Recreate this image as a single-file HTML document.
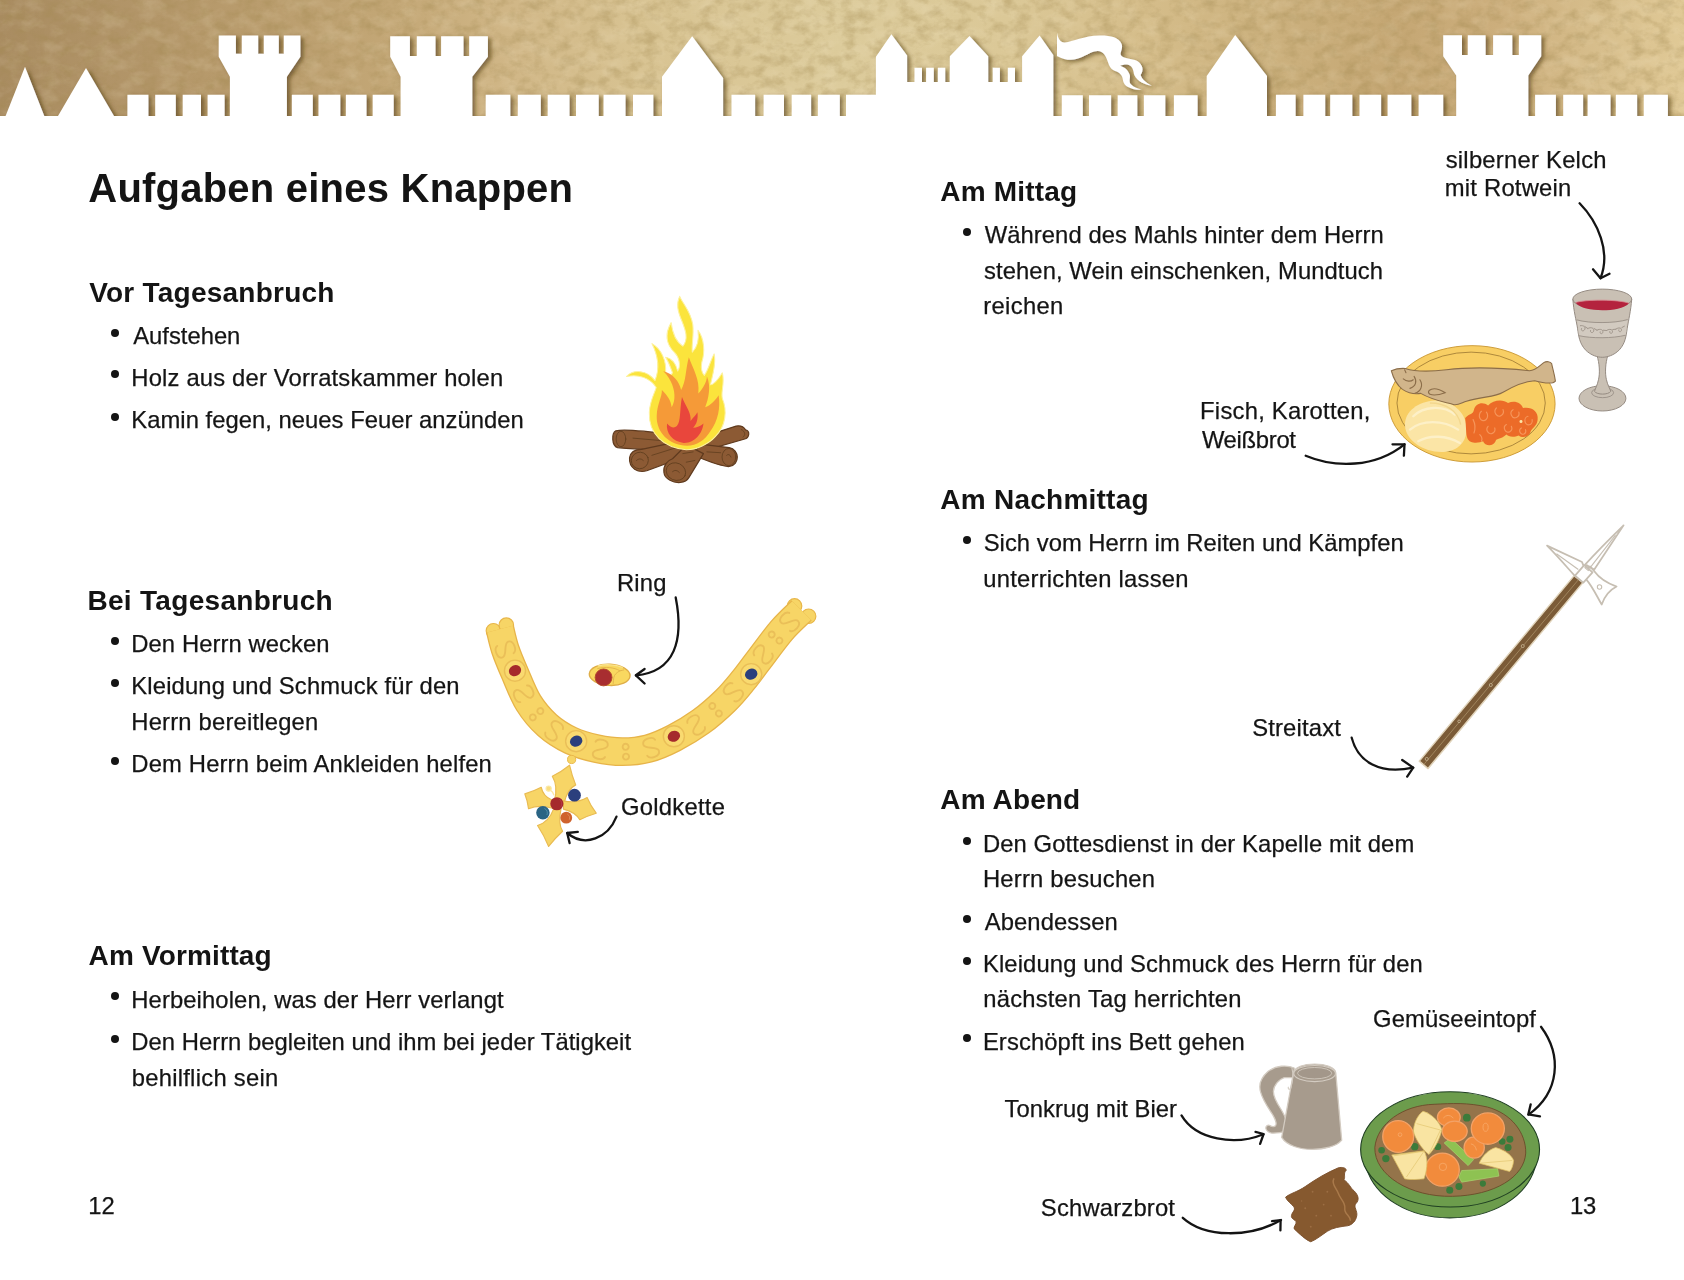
<!DOCTYPE html>
<html lang="de"><head><meta charset="utf-8"><title>Aufgaben eines Knappen</title>
<style>
html,body{margin:0;padding:0;}
body{width:1684px;height:1280px;position:relative;overflow:hidden;background:#fff;font-family:"Liberation Sans",sans-serif;color:#141414;}
.t{position:absolute;white-space:nowrap;line-height:1em;font-weight:400;-webkit-text-stroke:0.25px #141414;}
.t.b{font-weight:700;-webkit-text-stroke:0;}
.bu{position:absolute;width:8px;height:8px;border-radius:50%;background:#141414;}
svg{position:absolute;overflow:visible;}
#txt{position:absolute;left:0;top:0;width:1684px;height:1280px;will-change:transform;}
#banner{position:absolute;left:0;top:0;width:1684px;height:117px;overflow:hidden;}
</style></head><body>
<div id="banner">
<svg width="1684" height="117" viewBox="0 0 1684 117" style="left:0;top:0">
<defs>
<linearGradient id="pg" x1="0" x2="1" y1="0" y2="0">
<stop offset="0" stop-color="#a98c61"/><stop offset="0.06" stop-color="#b09367"/><stop offset="0.15" stop-color="#b99c6d"/>
<stop offset="0.24" stop-color="#c4a877"/><stop offset="0.30" stop-color="#d0b686"/><stop offset="0.38" stop-color="#d8c392"/>
<stop offset="0.50" stop-color="#dccb9b"/><stop offset="0.60" stop-color="#dbc897"/><stop offset="0.68" stop-color="#d5bd8a"/>
<stop offset="0.76" stop-color="#cbb07d"/><stop offset="0.83" stop-color="#c5a774"/><stop offset="0.89" stop-color="#ccae7c"/>
<stop offset="0.95" stop-color="#d7be8c"/><stop offset="1" stop-color="#e0c996"/>
</linearGradient>
<filter id="tex" x="0" y="0" width="100%" height="100%">
<feTurbulence type="fractalNoise" baseFrequency="0.07 0.09" numOctaves="4" seed="11" result="n"/>
<feColorMatrix in="n" type="matrix" values="0 0 0 0 0.36  0 0 0 0 0.25  0 0 0 0 0.08  2.4 0 0 0 -1.0"/>
</filter>
<filter id="tex2" x="0" y="0" width="100%" height="100%">
<feTurbulence type="fractalNoise" baseFrequency="0.05 0.07" numOctaves="4" seed="23" result="n"/>
<feColorMatrix in="n" type="matrix" values="0 0 0 0 0.95  0 0 0 0 0.86  0 0 0 0 0.66  0 2.4 0 0 -1.05"/>
</filter>
<filter id="sh" x="-2%" y="-20%" width="104%" height="140%">
<feGaussianBlur in="SourceAlpha" stdDeviation="2" result="b"/>
<feOffset in="b" dx="3.4" dy="1.5" result="o"/>
<feFlood flood-color="#4a3510" flood-opacity="0.6"/><feComposite in2="o" operator="in" result="s"/>
<feMerge><feMergeNode in="s"/><feMergeNode in="SourceGraphic"/></feMerge>
</filter>
</defs>
<rect x="0" y="0" width="1684" height="117" fill="url(#pg)"/>
<rect x="0" y="0" width="1684" height="117" filter="url(#tex)" opacity="0.36"/>
<rect x="0" y="0" width="1684" height="117" filter="url(#tex2)" opacity="0.16"/>
<g filter="url(#sh)" fill="#fff"><path d="M5.6,118.0 L5.6,116.0 L25.0,66.8 L44.3,116.0 L44.3,118.0Z M58.0,118.0 L58.0,116.0 L86.0,68.0 L114.0,116.0 L114.0,118.0Z M127.4,94.8 L148.4,94.8 L148.4,118.0 L127.4,118.0Z M155.2,94.8 L175.8,94.8 L175.8,118.0 L155.2,118.0Z M182.7,94.8 L201.0,94.8 L201.0,118.0 L182.7,118.0Z M207.6,94.8 L224.6,94.8 L224.6,118.0 L207.6,118.0Z M218.7,35.6 L235.9,35.6 L235.9,53.7 L241.8,53.7 L241.8,35.6 L258.2,35.6 L258.2,53.7 L263.8,53.7 L263.8,35.6 L278.8,35.6 L278.8,53.7 L283.8,53.7 L283.8,35.6 L300.4,35.6 L300.4,56.8 L286.9,76.8 L286.9,118.0 L229.9,118.0 L229.9,76.8 L218.7,56.8Z M291.9,94.8 L312.8,94.8 L312.8,118.0 L291.9,118.0Z M318.5,94.8 L340.3,94.8 L340.3,118.0 L318.5,118.0Z M345.9,94.8 L366.5,94.8 L366.5,118.0 L345.9,118.0Z M372.7,94.8 L393.7,94.8 L393.7,118.0 L372.7,118.0Z M390.2,36.2 L409.9,36.2 L409.9,56.0 L416.8,56.0 L416.8,36.2 L435.5,36.2 L435.5,56.0 L441.1,56.0 L441.1,36.2 L463.5,36.2 L463.5,56.0 L469.2,56.0 L469.2,36.2 L487.9,36.2 L487.9,56.8 L472.3,76.8 L472.3,118.0 L400.6,118.0 L400.6,76.8 L390.2,56.8Z M485.7,94.8 L510.3,94.8 L510.3,118.0 L485.7,118.0Z M517.8,94.8 L540.8,94.8 L540.8,118.0 L517.8,118.0Z M547.7,94.8 L569.5,94.8 L569.5,118.0 L547.7,118.0Z M576.0,94.8 L598.7,94.8 L598.7,118.0 L576.0,118.0Z M603.6,94.8 L625.5,94.8 L625.5,118.0 L603.6,118.0Z M633.0,94.8 L653.3,94.8 L653.3,118.0 L633.0,118.0Z M662.0,118.0 L662.0,76.8 L692.2,36.2 L723.1,78.0 L723.1,118.0Z M731.5,94.8 L755.1,94.8 L755.1,118.0 L731.5,118.0Z M763.6,94.8 L784.0,94.8 L784.0,118.0 L763.6,118.0Z M791.7,94.8 L811.1,94.8 L811.1,118.0 L791.7,118.0Z M817.9,94.8 L839.8,94.8 L839.8,118.0 L817.9,118.0Z M846.0,94.8 L876.5,94.8 L876.5,118.0 L846.0,118.0Z M875.9,118.0 L875.9,56.8 L891.4,34.3 L907.1,55.5 L907.1,82.0 L914.5,82.0 L914.5,67.8 L922.0,67.8 L922.0,82.0 L926.1,82.0 L926.1,67.8 L933.8,67.8 L933.8,82.0 L937.9,82.0 L937.9,67.8 L945.2,67.8 L945.2,82.0 L949.8,82.0 L949.8,56.2 L969.5,36.0 L988.2,56.2 L988.2,82.0 L992.8,82.0 L992.8,67.8 L999.9,67.8 L999.9,82.0 L1007.8,82.0 L1007.8,67.8 L1015.0,67.8 L1015.0,82.0 L1022.1,82.0 L1022.1,56.2 L1039.6,35.6 L1053.3,54.9 L1053.3,118.0Z M1061.8,95.2 L1082.8,95.2 L1082.8,118.0 L1061.8,118.0Z M1089.0,95.2 L1111.1,95.2 L1111.1,118.0 L1089.0,118.0Z M1117.7,95.2 L1137.3,95.2 L1137.3,118.0 L1117.7,118.0Z M1143.9,95.2 L1165.3,95.2 L1165.3,118.0 L1143.9,118.0Z M1173.9,95.2 L1197.6,95.2 L1197.6,118.0 L1173.9,118.0Z M1206.7,118.0 L1206.7,76.1 L1235.2,35.0 L1267.0,76.1 L1267.0,118.0Z M1275.9,94.8 L1295.6,94.8 L1295.6,118.0 L1275.9,118.0Z M1303.4,94.8 L1325.2,94.8 L1325.2,118.0 L1303.4,118.0Z M1330.2,94.8 L1352.3,94.8 L1352.3,118.0 L1330.2,118.0Z M1359.5,94.8 L1381.1,94.8 L1381.1,118.0 L1359.5,118.0Z M1387.6,94.8 L1411.3,94.8 L1411.3,118.0 L1387.6,118.0Z M1418.6,94.8 L1443.2,94.8 L1443.2,118.0 L1418.6,118.0Z M1443.2,35.2 L1462.0,35.2 L1462.0,54.9 L1467.8,54.9 L1467.8,35.2 L1485.6,35.2 L1485.6,54.9 L1493.1,54.9 L1493.1,35.2 L1512.3,35.2 L1512.3,54.9 L1518.9,54.9 L1518.9,35.2 L1541.2,35.2 L1541.2,56.2 L1528.3,75.5 L1528.3,118.0 L1456.2,118.0 L1456.2,75.5 L1443.2,56.2Z M1535.1,94.8 L1555.9,94.8 L1555.9,118.0 L1535.1,118.0Z M1563.2,94.8 L1583.1,94.8 L1583.1,118.0 L1563.2,118.0Z M1587.7,94.8 L1610.5,94.8 L1610.5,118.0 L1587.7,118.0Z M1615.9,94.8 L1637.1,94.8 L1637.1,118.0 L1615.9,118.0Z M1643.8,94.8 L1667.9,94.8 L1667.9,118.0 L1643.8,118.0Z M-10,116 L1700,116 L1700,130 L-10,130Z"/><path d="M1057.0,32.5 C1057.9,39.1 1060.8,42.9 1064.9,42.4 C1073.3,42.0 1083.2,35.8 1099.9,35.6 C1110.7,35.5 1119.0,37.5 1121.6,44.1 C1123.5,49.1 1119.0,53.3 1121.3,55.7 C1124.0,59.1 1131.4,57.8 1137.3,61.1 C1143.1,64.9 1143.9,70.7 1140.6,74.9 C1142.2,79.9 1147.2,83.2 1151.8,85.7 C1144.7,84.4 1137.3,81.5 1134.3,74.9 C1133.1,70.7 1133.5,66.6 1128.1,64.7 C1125.6,64.1 1122.3,64.9 1120.2,65.7 C1124.8,67.4 1128.1,69.9 1129.8,74.9 C1130.6,78.2 1128.1,81.5 1131.4,84.8 C1133.9,87.3 1138.1,88.6 1141.6,89.5 C1135.6,90.2 1128.1,88.2 1124.8,84.4 C1121.9,81.1 1124.0,77.4 1119.8,73.6 C1116.5,70.7 1112.3,71.5 1109.8,66.6 C1107.3,61.6 1106.5,54.9 1101.5,52.0 C1096.5,49.1 1089.9,53.3 1083.2,56.6 C1075.7,60.3 1067.4,61.6 1057.0,55.9Z"/></g>
</svg></div>
<div id="txt">
<div class="t b" style="left:88.30px;top:167.54px;font-size:40px;letter-spacing:0.219px">Aufgaben eines Knappen</div>
<div class="t b" style="left:89.16px;top:278.80px;font-size:28px;letter-spacing:0.239px">Vor Tagesanbruch</div>
<div class="t" style="left:133.20px;top:323.85px;font-size:23.8px;letter-spacing:0.000px">Aufstehen</div>
<div class="t" style="left:131.30px;top:365.75px;font-size:23.8px;letter-spacing:0.176px">Holz aus der Vorratskammer holen</div>
<div class="t" style="left:131.30px;top:408.05px;font-size:23.8px;letter-spacing:0.029px">Kamin fegen, neues Feuer anzünden</div>
<div class="t b" style="left:87.48px;top:587.30px;font-size:28px;letter-spacing:0.303px">Bei Tagesanbruch</div>
<div class="t" style="left:131.30px;top:632.45px;font-size:23.8px;letter-spacing:0.079px">Den Herrn wecken</div>
<div class="t" style="left:131.30px;top:674.35px;font-size:23.8px;letter-spacing:0.152px">Kleidung und Schmuck für den</div>
<div class="t" style="left:131.30px;top:709.95px;font-size:23.8px;letter-spacing:0.194px">Herrn bereitlegen</div>
<div class="t" style="left:131.30px;top:752.15px;font-size:23.8px;letter-spacing:0.158px">Dem Herrn beim Ankleiden helfen</div>
<div class="t b" style="left:88.60px;top:942.40px;font-size:28px;letter-spacing:0.144px">Am Vormittag</div>
<div class="t" style="left:131.30px;top:987.75px;font-size:23.8px;letter-spacing:0.100px">Herbeiholen, was der Herr verlangt</div>
<div class="t" style="left:131.30px;top:1029.95px;font-size:23.8px;letter-spacing:0.032px">Den Herrn begleiten und ihm bei jeder Tätigkeit</div>
<div class="t" style="left:131.65px;top:1065.65px;font-size:23.8px;letter-spacing:0.264px">behilflich sein</div>
<div class="t" style="left:88.22px;top:1194.05px;font-size:23.8px;letter-spacing:0.157px">12</div>
<div class="t b" style="left:940.30px;top:177.70px;font-size:28px;letter-spacing:0.197px">Am Mittag</div>
<div class="t" style="left:984.68px;top:223.45px;font-size:23.8px;letter-spacing:0.070px">Während des Mahls hinter dem Herrn</div>
<div class="t" style="left:984.09px;top:258.65px;font-size:23.8px;letter-spacing:0.077px">stehen, Wein einschenken, Mundtuch</div>
<div class="t" style="left:983.25px;top:294.25px;font-size:23.8px;letter-spacing:0.322px">reichen</div>
<div class="t b" style="left:940.30px;top:485.70px;font-size:28px;letter-spacing:0.245px">Am Nachmittag</div>
<div class="t" style="left:983.73px;top:531.15px;font-size:23.8px;letter-spacing:0.019px">Sich vom Herrn im Reiten und Kämpfen</div>
<div class="t" style="left:983.25px;top:566.75px;font-size:23.8px;letter-spacing:0.232px">unterrichten lassen</div>
<div class="t b" style="left:940.30px;top:786.00px;font-size:28px;letter-spacing:0.134px">Am Abend</div>
<div class="t" style="left:982.90px;top:831.85px;font-size:23.8px;letter-spacing:0.108px">Den Gottesdienst in der Kapelle mit dem</div>
<div class="t" style="left:982.90px;top:867.45px;font-size:23.8px;letter-spacing:0.216px">Herrn besuchen</div>
<div class="t" style="left:984.80px;top:909.95px;font-size:23.8px;letter-spacing:0.069px">Abendessen</div>
<div class="t" style="left:982.90px;top:952.25px;font-size:23.8px;letter-spacing:0.126px">Kleidung und Schmuck des Herrn für den</div>
<div class="t" style="left:983.25px;top:987.45px;font-size:23.8px;letter-spacing:0.209px">nächsten Tag herrichten</div>
<div class="t" style="left:982.90px;top:1029.65px;font-size:23.8px;letter-spacing:0.111px">Erschöpft ins Bett gehen</div>
<div class="t" style="left:1569.91px;top:1194.05px;font-size:23.8px;letter-spacing:-0.181px">13</div>
<div class="t" style="left:1445.69px;top:148.35px;font-size:23.8px;letter-spacing:0.245px">silberner Kelch</div>
<div class="t" style="left:1444.85px;top:175.55px;font-size:23.8px;letter-spacing:0.204px">mit Rotwein</div>
<div class="t" style="left:1200.10px;top:399.05px;font-size:23.8px;letter-spacing:0.242px">Fisch, Karotten,</div>
<div class="t" style="left:1201.88px;top:427.95px;font-size:23.8px;letter-spacing:-0.285px">Weißbrot</div>
<div class="t" style="left:1252.13px;top:716.35px;font-size:23.8px;letter-spacing:0.183px">Streitaxt</div>
<div class="t" style="left:1373.01px;top:1007.15px;font-size:23.8px;letter-spacing:0.126px">Gemüseeintopf</div>
<div class="t" style="left:1004.62px;top:1096.65px;font-size:23.8px;letter-spacing:0.026px">Tonkrug mit Bier</div>
<div class="t" style="left:1040.83px;top:1196.15px;font-size:23.8px;letter-spacing:0.188px">Schwarzbrot</div>
<div class="t" style="left:616.90px;top:570.85px;font-size:23.8px;letter-spacing:0.247px">Ring</div>
<div class="t" style="left:621.11px;top:794.55px;font-size:23.8px;letter-spacing:0.237px">Goldkette</div>
<div class="bu" style="left:111.4px;top:328.5px"></div>
<div class="bu" style="left:111.4px;top:370.4px"></div>
<div class="bu" style="left:111.4px;top:412.7px"></div>
<div class="bu" style="left:111.4px;top:637.1px"></div>
<div class="bu" style="left:111.4px;top:679.0px"></div>
<div class="bu" style="left:111.4px;top:756.8px"></div>
<div class="bu" style="left:111.4px;top:992.4px"></div>
<div class="bu" style="left:111.4px;top:1034.6px"></div>
<div class="bu" style="left:963.2px;top:228.1px"></div>
<div class="bu" style="left:963.2px;top:535.8px"></div>
<div class="bu" style="left:963.2px;top:836.5px"></div>
<div class="bu" style="left:963.2px;top:914.6px"></div>
<div class="bu" style="left:963.2px;top:956.9px"></div>
<div class="bu" style="left:963.2px;top:1034.3px"></div>
</div>
<svg style="left:590px;top:280px" width="180" height="220" viewBox="0 0 1047 1280">
<g stroke="#5f3a1e" stroke-width="7" stroke-linejoin="round" fill="#8c5a34">
<!-- back logs -->
<path d="M150,878 C190,868 330,880 480,900 L470,990 C360,985 230,985 160,975 C125,965 125,890 150,878Z"/>
<path d="M905,872 C935,880 925,920 900,925 L640,1000 L600,930 L850,850 C880,845 895,855 905,872Z"/>
<path d="M640,955 L810,975 C870,985 875,1075 810,1085 C780,1090 700,1060 600,1020Z"/>
<path d="M230,1035 C235,1000 260,985 300,985 L560,930 L600,1010 L330,1110 C280,1125 225,1095 230,1035Z"/>
<path d="M430,1120 C425,1080 450,1050 480,1040 L560,960 L660,1010 L575,1150 C555,1185 500,1185 465,1165 C445,1155 432,1140 430,1120Z"/>
</g>
<g fill="none" stroke="#63401f" stroke-width="5" stroke-linecap="round">
<ellipse cx="180" cy="925" rx="28" ry="45"/>
<ellipse cx="290" cy="1050" rx="50" ry="48" transform="rotate(-20 290 1050)"/>
<ellipse cx="500" cy="1115" rx="58" ry="50" transform="rotate(25 500 1115)"/>
<ellipse cx="808" cy="1030" rx="40" ry="50"/>
<path d="M880,870 C905,880 905,905 890,915"/>
<path d="M270,1050 q20,-20 40,0"/><path d="M480,1115 q20,-18 40,5"/><path d="M795,1020 q15,-15 25,10"/>
<path d="M360,1020 L520,970"/><path d="M540,1010 L600,1000"/><path d="M680,1000 L760,1005"/><path d="M250,920 L420,935"/><path d="M560,1060 L610,1050"/>
</g>
<!-- yellow flame -->
<path fill="#fbe43c" stroke="#fdf2a0" stroke-width="6" stroke-linejoin="round" d="M560,988 C430,975 340,900 345,770 C348,700 380,650 385,625 C350,570 280,545 212,562 C250,520 330,520 378,585 C405,520 395,440 360,370 C415,400 445,470 440,540 C455,560 470,560 480,540 C465,500 455,470 440,450 C475,455 500,490 510,530 C530,500 520,450 490,420 C450,380 430,320 472,248 C480,310 500,360 540,385 C575,345 555,290 535,240 C510,180 500,140 522,95 C540,140 585,180 598,260 C605,320 590,380 595,420 C625,390 635,340 628,293 C665,340 670,420 650,480 C645,510 650,540 665,555 C690,520 700,470 722,430 C735,480 715,550 700,610 C720,610 745,580 770,540 C785,600 760,650 770,690 C800,760 790,850 730,910 C690,955 620,988 560,988Z"/>
<!-- orange flame -->
<path fill="#f59a38" d="M565,965 C460,960 385,890 388,790 C390,720 420,680 418,640 C450,670 470,700 475,740 C500,700 495,640 470,590 C455,560 440,545 425,530 C480,545 520,590 530,640 C560,590 555,520 575,450 C600,520 640,580 630,660 C660,630 680,590 680,560 C705,620 690,690 670,740 C700,730 730,700 748,670 C760,740 745,820 700,880 C670,930 620,965 565,965Z"/>
<!-- red flame -->
<path fill="#e9463c" d="M545,948 C480,940 440,890 448,835 C470,860 490,865 505,850 C530,820 520,760 535,680 C560,740 590,770 585,820 C600,800 615,790 625,770 C630,810 620,840 600,860 C620,860 645,850 660,835 C655,890 610,950 545,948Z"/>
</svg>

<svg style="left:470px;top:560px" width="370" height="300" viewBox="0 0 1579 1280">
<g fill="#f7d566" stroke="#e8b648" stroke-width="5">
<circle cx="100" cy="302" r="31"/><circle cx="155" cy="278" r="31"/>
<circle cx="1385" cy="196" r="31"/><circle cx="1445" cy="240" r="31"/>
</g>
<path d="M128,295 C131.7,309.2 139.7,349.2 150,380 C160.3,410.8 173.3,441.7 190,480 C206.7,518.3 226.7,572.5 250,610 C273.3,647.5 300.0,678.3 330,705 C360.0,731.7 395.0,753.3 430,770 C465.0,786.7 503.3,797.0 540,805 C576.7,813.0 613.3,818.0 650,818 C686.7,818.0 723.3,814.7 760,805 C796.7,795.3 832.5,779.2 870,760 C907.5,740.8 948.3,716.7 985,690 C1021.7,663.3 1060.0,629.2 1090,600 C1120.0,570.8 1141.7,543.3 1165,515 C1188.3,486.7 1202.5,465.8 1230,430 C1257.5,394.2 1299.2,335.8 1330,300 C1360.8,264.2 1400.8,229.2 1415,215" fill="none" stroke="#e7b44a" stroke-width="123" stroke-linecap="butt"/>
<path d="M128,295 C131.7,309.2 139.7,349.2 150,380 C160.3,410.8 173.3,441.7 190,480 C206.7,518.3 226.7,572.5 250,610 C273.3,647.5 300.0,678.3 330,705 C360.0,731.7 395.0,753.3 430,770 C465.0,786.7 503.3,797.0 540,805 C576.7,813.0 613.3,818.0 650,818 C686.7,818.0 723.3,814.7 760,805 C796.7,795.3 832.5,779.2 870,760 C907.5,740.8 948.3,716.7 985,690 C1021.7,663.3 1060.0,629.2 1090,600 C1120.0,570.8 1141.7,543.3 1165,515 C1188.3,486.7 1202.5,465.8 1230,430 C1257.5,394.2 1299.2,335.8 1330,300 C1360.8,264.2 1400.8,229.2 1415,215" fill="none" stroke="#f7d566" stroke-width="112" stroke-linecap="butt"/>
<g fill="none" stroke="#eabf58" stroke-width="8" stroke-linecap="round"><g transform="translate(151,382) rotate(71) "><path d="M26,-28 C20,-47 -28,-47 -28,-22 C-28,0 28,0 28,22 C28,47 -20,47 -26,28"/></g><g transform="translate(229,571) rotate(65) scale(-1,1)"><path d="M26,-28 C20,-47 -28,-47 -28,-22 C-28,0 28,0 28,22 C28,47 -20,47 -26,28"/></g><g transform="translate(284,658) rotate(50) "><path d="M0,-34 a13,13 0 1,0 0.1,0 M0,8 a13,13 0 1,0 0.1,0"/></g><g transform="translate(359,729) rotate(36) "><path d="M26,-28 C20,-47 -28,-47 -28,-22 C-28,0 28,0 28,22 C28,47 -20,47 -26,28"/></g><g transform="translate(556,808) rotate(11) scale(-1,1)"><path d="M26,-28 C20,-47 -28,-47 -28,-22 C-28,0 28,0 28,22 C28,47 -20,47 -26,28"/></g><g transform="translate(665,818) rotate(-2) "><path d="M0,-34 a13,13 0 1,0 0.1,0 M0,8 a13,13 0 1,0 0.1,0"/></g><g transform="translate(773,801) rotate(-17) "><path d="M26,-28 C20,-47 -28,-47 -28,-22 C-28,0 28,0 28,22 C28,47 -20,47 -26,28"/></g><g transform="translate(965,704) rotate(-34) scale(-1,1)"><path d="M26,-28 C20,-47 -28,-47 -28,-22 C-28,0 28,0 28,22 C28,47 -20,47 -26,28"/></g><g transform="translate(1048,639) rotate(-42) "><path d="M0,-34 a13,13 0 1,0 0.1,0 M0,8 a13,13 0 1,0 0.1,0"/></g><g transform="translate(1124,564) rotate(-49) "><path d="M26,-28 C20,-47 -28,-47 -28,-22 C-28,0 28,0 28,22 C28,47 -20,47 -26,28"/></g><g transform="translate(1251,403) rotate(-53) scale(-1,1)"><path d="M26,-28 C20,-47 -28,-47 -28,-22 C-28,0 28,0 28,22 C28,47 -20,47 -26,28"/></g><g transform="translate(1304,331) rotate(-52) "><path d="M0,-34 a13,13 0 1,0 0.1,0 M0,8 a13,13 0 1,0 0.1,0"/></g><g transform="translate(1364,264) rotate(-45) "><path d="M26,-28 C20,-47 -28,-47 -28,-22 C-28,0 28,0 28,22 C28,47 -20,47 -26,28"/></g></g>
<circle cx="192" cy="472" r="45" fill="#f9da70" stroke="#eabf58" stroke-width="6"/><ellipse cx="192" cy="472" rx="27" ry="23" fill="#a52a2c" transform="rotate(-25 192 472)"/><circle cx="453" cy="773" r="45" fill="#f9da70" stroke="#eabf58" stroke-width="6"/><ellipse cx="453" cy="773" rx="27" ry="23" fill="#2b3f7d" transform="rotate(-25 453 773)"/><circle cx="870" cy="752" r="45" fill="#f9da70" stroke="#eabf58" stroke-width="6"/><ellipse cx="870" cy="752" rx="27" ry="23" fill="#a52a2c" transform="rotate(-25 870 752)"/><circle cx="1200" cy="487" r="45" fill="#f9da70" stroke="#eabf58" stroke-width="6"/><ellipse cx="1200" cy="487" rx="27" ry="23" fill="#2b3f7d" transform="rotate(-25 1200 487)"/>
<!-- ring -->
<ellipse cx="596" cy="490" rx="87" ry="45" fill="#f9d860" stroke="#dfae48" stroke-width="6" transform="rotate(3 596 490)"/>
<path d="M545,463 C575,455 615,457 640,473 C648,471 652,470 656,469" fill="none" stroke="#e2b44c" stroke-width="4" stroke-linecap="round"/>
<path d="M640,473 C625,480 616,490 614,500 C612,510 612,518 611,527" fill="none" stroke="#e2b44c" stroke-width="4" stroke-linecap="round"/>
<path d="M548,452 C575,444 620,446 650,458" fill="none" stroke="#fbe58e" stroke-width="6" stroke-linecap="round"/>
<circle cx="570" cy="501" r="36" fill="#a82d30" stroke="#b4482a" stroke-width="4"/>
<!-- pendant -->
<circle cx="433.6" cy="851.1" r="17.5" fill="#f7d566" stroke="#e8b648" stroke-width="4"/>
<g fill="#f7d566" stroke="#e9bb52" stroke-width="5" stroke-linejoin="round">
<path d="M360.1,1027.9 Q377.0,965.5 351.3,922.9 Q389.4,904.1 424.8,875.6 Q434.8,920.8 451.1,959.6 Q416.0,977.6 402.1,1034.9Z"/><path d="M398.6,1027.9 Q458.0,1039.8 500.1,1013.9 Q514.8,1048.6 538.6,1080.4 Q500.5,1091.6 468.6,1108.4 Q449.4,1075.4 398.6,1062.9Z"/><path d="M388.1,1062.9 Q374.7,1124.7 395.1,1157.4 Q364.3,1185.6 335.6,1222.2 Q315.7,1174.4 288.3,1132.9 Q336.6,1118.0 356.6,1062.9Z"/><path d="M353.1,1059.4 Q297.5,1042.2 249.8,1061.2 Q246.5,1028.8 234.1,998.1 Q271.2,987.4 304.1,970.1 Q311.5,1007.5 349.6,1024.4Z"/>
</g>
<circle cx="335.6" cy="975.4" r="11" fill="#f9de80" stroke="#fbe9a8" stroke-width="5"/>
<path d="M343.6,983.4 q10,6 14,18" fill="none" stroke="#fbe9a8" stroke-width="6" stroke-linecap="round"/>
<circle cx="370.6" cy="1040.1" r="28.0" fill="#a52a2c"/>
<circle cx="445.9" cy="1003.4" r="27.3" fill="#2b3f7d"/>
<circle cx="311.1" cy="1078.7" r="28.7" fill="#2a6484"/>
<circle cx="410.8" cy="1099.7" r="25.2" fill="#cf622c"/>
<path d="M319.1,1060.7 a20,20 0 0,1 10,26" fill="none" stroke="#4f8ea8" stroke-width="4" stroke-linecap="round"/>
<path d="M416.8,1084.7 a17,17 0 0,1 8,22" fill="none" stroke="#e08a58" stroke-width="4" stroke-linecap="round"/>
<path d="M382.6,1022.1 a22,22 0 0,1 6,30" fill="none" stroke="#b53a4a" stroke-width="4" stroke-linecap="round"/>
</svg>
<svg style="left:1380px;top:270px" width="280" height="200" viewBox="0 0 1684 1203">
<g stroke="#958b82" stroke-width="6" stroke-linejoin="round" fill="#c9c0b4">
<ellipse cx="1338" cy="772" rx="141" ry="76"/>
<ellipse cx="1339" cy="738" rx="66" ry="30" stroke-width="5"/>
<path d="M1305,515 C1320,560 1324,620 1314,660 C1308,690 1296,712 1290,730 C1305,752 1372,752 1388,730 C1382,712 1368,690 1362,660 C1352,620 1356,560 1370,515Z"/>
<path d="M1160,175 C1165,250 1180,300 1188,350 C1195,400 1200,440 1235,480 C1270,515 1310,525 1337,525 C1365,525 1405,515 1440,480 C1475,440 1480,400 1487,350 C1495,300 1508,250 1514,175Z"/>
<ellipse cx="1337" cy="175" rx="177" ry="60"/>
</g>
<path d="M1176,196 C1230,176 1440,176 1498,200 C1470,232 1400,242 1337,242 C1270,242 1200,230 1176,196Z" fill="#b4233e"/>
<path d="M1176,196 C1230,176 1440,176 1498,200" fill="none" stroke="#d98a92" stroke-width="5"/>
<path d="M1186,302 C1260,324 1410,324 1489,300 L1478,392 C1400,412 1270,412 1197,395Z" fill="#d2cac0"/>
<g fill="none" stroke="#958b82" stroke-width="5">
<path d="M1184,300 C1260,322 1410,322 1490,298"/>
<path d="M1197,395 C1270,412 1400,412 1478,392"/>
</g>
<g fill="none" stroke="#a0968c" stroke-width="6" stroke-linecap="round">
<path d="M1205,335 C1225,330 1240,345 1230,360 C1222,372 1205,365 1212,352 M1250,352 C1270,340 1290,350 1285,368 C1280,382 1262,378 1266,364 M1305,362 C1325,350 1345,360 1340,376 C1336,388 1320,384 1324,372 M1362,364 C1382,350 1402,358 1398,374 C1394,386 1378,382 1382,370 M1418,356 C1436,342 1456,348 1452,364 C1448,376 1432,372 1436,360"/>
<path d="M1232,340 L1250,352 M1288,352 L1305,362 M1343,362 L1362,364 M1400,358 L1418,356 M1455,346 L1470,338"/>
</g>
</svg>

<svg style="left:1380px;top:270px" width="280" height="200" viewBox="0 0 1684 1203">
<ellipse cx="553" cy="805" rx="500" ry="350" fill="#f8ce64" stroke="#c9962f" stroke-width="5.5"/>
<ellipse cx="548" cy="800" rx="446" ry="306" fill="none" stroke="#93702e" stroke-width="4.5"/>
<!-- bread -->
<path d="M150,930 C150,850 230,790 330,785 C430,782 510,850 520,940 C528,1030 470,1090 380,1095 C270,1100 150,1030 150,930Z" fill="#fbe5a6"/>
<path d="M200,880 C260,820 380,810 450,870 M180,960 C250,900 380,900 470,960 M230,1030 C300,990 400,995 480,1040" fill="none" stroke="#fdf0c8" stroke-width="14" stroke-linecap="round"/>
<path d="M300,800 C400,800 470,850 485,930" fill="none" stroke="#f3d78e" stroke-width="8"/>
<!-- carrots -->
<g fill="#ec6b28">
<path d="M512,890 C540,860 560,870 565,840 C575,800 620,790 650,815 C680,780 740,775 770,800 C810,780 850,800 860,830 C910,820 955,850 948,900 C945,940 910,950 905,975 C895,1010 850,1010 835,995 C800,1010 770,1000 760,990 C730,1020 700,1010 695,1030 C680,1065 630,1060 620,1030 C600,1040 540,1050 525,1010 C515,980 520,950 512,890Z"/>
</g>
<g fill="none" stroke="#f6955a" stroke-width="7" stroke-linecap="round">
<path d="M560,900 q20,40 5,80"/><path d="M610,850 a25,30 0 1,0 30,5"/><path d="M700,830 a25,28 0 1,0 40,10"/><path d="M800,840 a24,26 0 1,0 35,15"/><path d="M890,880 a22,26 0 1,0 25,20"/>
<path d="M650,940 a24,26 0 1,0 40,10"/><path d="M760,930 a22,24 0 1,0 30,10"/><path d="M850,950 a18,20 0 1,0 25,10"/><path d="M600,990 q20,20 10,40"/>
</g>
<circle cx="848" cy="912" r="9" fill="#fbe5a6"/>
<!-- fish -->
<path d="M68,606 C90,596 120,590 152,592 C220,615 300,612 400,600 C520,585 700,585 900,606 C935,605 955,580 985,557 C1000,548 1025,550 1032,562 C1040,600 1050,630 1055,668 C1040,685 990,682 930,666 C870,670 800,700 740,735 C690,765 620,760 520,790 C490,800 465,815 445,810 C400,795 330,790 245,742 C215,748 170,740 135,718 C105,695 80,650 68,606Z" fill="#d1b58b" stroke="#8b6d49" stroke-width="6.5" stroke-linejoin="round"/>
<g fill="none" stroke="#8b6d49" stroke-width="6.5" stroke-linecap="round">
<path d="M205,640 C225,670 215,700 180,712"/><path d="M240,660 C262,695 245,730 210,742"/>
<path d="M140,655 C160,672 185,672 200,660"/>
<path d="M295,725 C320,705 355,715 392,738 C360,750 320,755 300,748 C292,742 290,732 295,725Z"/>
<path d="M148,600 L156,618"/>
</g>
</svg>

<svg style="left:1400px;top:510px" width="284" height="280" viewBox="0 0 1298 1280">
<!-- shaft -->
<path d="M88,1148 L796,300 L836,332 L128,1182Z" fill="#7b5b37" stroke="#e0d3ba" stroke-width="7" stroke-linejoin="round"/>
<path d="M110,1162 L816,318" stroke="#a58a62" stroke-width="4" fill="none"/>
<g fill="#7b5b37" stroke="#d8c8a8" stroke-width="3"><circle cx="561" cy="622" r="7"/><circle cx="415" cy="800" r="7"/><circle cx="270" cy="966" r="6"/><circle cx="122" cy="1138" r="7"/></g>
<!-- head -->
<g fill="#fff" stroke="#c6beb2" stroke-width="8" stroke-linejoin="round">
<path d="M672,163 L832,238 L842,262 L800,302 C770,270 720,210 672,163Z"/>
<path d="M1022,70 L888,272 L846,250 C900,190 960,130 1022,70Z"/>
<path d="M868,258 L890,282 C910,310 950,335 990,350 C960,365 935,395 922,432 C900,395 880,350 852,318 L830,300Z"/>
<path d="M800,300 L842,252 L880,285 L838,332Z"/>
</g>
<g fill="none" stroke="#c6beb2" stroke-width="5">
<path d="M715,200 L815,272"/><path d="M985,115 L870,262"/>
<circle cx="912" cy="352" r="10"/>
<rect x="848" y="256" width="20" height="16" transform="rotate(40 858 264)"/>
</g>
</svg>

<svg style="left:1250px;top:1050px" width="310" height="210" viewBox="0 0 1684 1141">
<!-- handle blob -->
<path d="M240,98 C200,80 140,84 99,116 C62,148 45,190 58,230 C70,275 100,315 125,355 C138,378 146,395 140,408 C134,420 118,418 108,410 C98,405 85,412 86,425 C88,440 105,452 125,452 C150,452 175,448 195,440 L240,300Z" fill="#a79b8d" stroke="#d3cbc1" stroke-width="7" stroke-linejoin="round"/>
<!-- hole -->
<path d="M186,150 C160,158 128,190 127,226 C127,260 150,295 168,322 C182,345 194,368 199,392 L270,392 L270,150Z" fill="#fff" stroke="#d3cbc1" stroke-width="7" stroke-linejoin="round"/>
<!-- body -->
<path d="M236,125 C240,60 462,60 466,125 L498,490 C470,525 400,540 340,540 C270,540 200,520 172,475Z" fill="#a79b8d" stroke="#d3cbc1" stroke-width="7" stroke-linejoin="round"/>
<ellipse cx="351" cy="128" rx="113" ry="44" fill="#a79b8d" stroke="#d3cbc1" stroke-width="6"/>
<ellipse cx="351" cy="126" rx="93" ry="31" fill="#a3978a" stroke="#cfc6bb" stroke-width="5"/>
<path d="M228,100 C236,130 232,170 222,205 C218,218 205,215 208,202" fill="none" stroke="#d3cbc1" stroke-width="6" stroke-linecap="round"/>
<path d="M226,110 C231,140 228,170 218,200" fill="none" stroke="#a79b8d" stroke-width="0"/>
</svg>

<svg style="left:1250px;top:1050px" width="310" height="210" viewBox="0 0 1684 1141">
<path d="M193,800 C215,780 260,770 300,742 C360,700 420,665 480,640 C500,635 525,640 522,655 C505,670 520,690 510,705 C540,725 545,750 565,765 C590,790 595,815 575,835 C560,850 585,875 580,900 C575,930 555,950 530,955 C490,960 450,965 420,985 C390,1005 360,1030 330,1042 C300,1030 270,1000 240,972 C235,960 255,945 250,932 C240,920 222,915 225,900 C228,880 250,870 238,852 C225,835 200,820 193,800Z" fill="#86592f" stroke="#7a4f2a" stroke-width="5" stroke-linejoin="round"/>
<path d="M455,700 C440,730 470,750 480,780 C490,810 520,830 515,860 C510,890 545,900 545,925" fill="none" stroke="#a9794a" stroke-width="8" stroke-linecap="round"/>
<g fill="#9c6e44"><circle cx="340" cy="770" r="5"/><circle cx="400" cy="840" r="5"/><circle cx="300" cy="860" r="5"/><circle cx="360" cy="900" r="5"/><circle cx="440" cy="900" r="5"/><circle cx="330" cy="960" r="5"/><circle cx="420" cy="770" r="5"/><circle cx="280" cy="820" r="4"/></g>
</svg>

<svg style="left:1250px;top:1050px" width="310" height="210" viewBox="0 0 1684 1141">
<g stroke="#1f3f22" stroke-width="6" fill="#6c9c4c">
<path d="M632,640 C680,800 860,912 1085,912 C1320,912 1500,800 1548,640Z"/>
<ellipse cx="1087" cy="540" rx="486" ry="313"/>
</g>
<path d="M678,530 C690,400 830,300 1000,295 C1100,290 1180,285 1290,310 C1420,345 1500,450 1498,560 C1490,690 1330,790 1100,795 C870,800 675,680 678,530Z" fill="#94744a" stroke="#6b4c2b" stroke-width="5"/>
<g fill="#3b7b3a">
<circle cx="715" cy="545" r="18"/><circle cx="738" cy="590" r="20"/><circle cx="895" cy="525" r="20"/><circle cx="1020" cy="525" r="19"/>
<circle cx="1178" cy="368" r="21"/><circle cx="1370" cy="497" r="18"/><circle cx="1412" cy="485" r="19"/><circle cx="1402" cy="530" r="19"/>
<circle cx="1085" cy="762" r="19"/><circle cx="1135" cy="742" r="19"/><circle cx="1265" cy="726" r="17"/>
</g>
<!-- beans -->
<path d="M1055,505 L1090,480 L1215,595 L1185,628Z" fill="#8ec252" stroke="#a8d46e" stroke-width="4"/>
<path d="M1135,690 L1150,655 L1345,645 L1352,685 L1150,718Z" fill="#8ec252" stroke="#a8d46e" stroke-width="4"/>
<!-- carrots -->
<g fill="#f28b3c" stroke="#f3a267" stroke-width="7">
<ellipse cx="1080" cy="365" rx="62" ry="50"/>
<ellipse cx="1112" cy="442" rx="68" ry="55"/>
<ellipse cx="1218" cy="530" rx="55" ry="58"/>
<ellipse cx="805" cy="470" rx="84" ry="86"/>
<ellipse cx="1292" cy="427" rx="90" ry="85"/>
<ellipse cx="1045" cy="650" rx="92" ry="90"/>
</g>
<g fill="none" stroke="#f7a764" stroke-width="5">
<circle cx="815" cy="460" r="10"/><ellipse cx="1280" cy="420" rx="14" ry="22"/><circle cx="1048" cy="635" r="20"/>
<path d="M1050,370 q25,-30 55,0"/><path d="M1200,510 q25,5 30,35"/>
</g>
<!-- potatoes -->
<g fill="#f9e4a2" stroke="#dcbd62" stroke-width="4" stroke-linejoin="round">
<path d="M940,333 C985,345 1030,390 1042,432 C1030,490 1000,540 972,568 C935,540 895,480 888,440 C890,390 915,350 940,333Z"/>
<path d="M770,570 L945,548 C965,580 968,640 945,700 C900,705 860,705 840,700Z"/>
<path d="M1245,615 C1265,570 1300,540 1335,530 C1385,545 1420,570 1432,600 C1430,625 1422,650 1410,660Z"/>
</g>
<g fill="none" stroke="#dcbd62" stroke-width="3">
<path d="M905,400 L1035,435 M1035,435 L975,560"/><path d="M945,550 L850,690 M945,550 L780,575"/><path d="M1250,615 L1425,600"/>
</g>
</svg>

<svg style="left:0;top:0" width="1684" height="1280" viewBox="0 0 1684 1280">
<g fill="none" stroke="#141414" stroke-width="2.3" stroke-linecap="round" stroke-linejoin="round">
<!-- Kelch -->
<path d="M1579.6,203.3 C1598,222 1611,252 1600.5,278.2"/><path d="M1593,269.3 L1600.5,278.2 L1609.5,273.8"/>
<!-- Fisch -->
<path d="M1305.7,455.7 C1335,468 1375,468 1404.5,444.3"/><path d="M1392.5,444.3 L1404.5,444.3 L1403.9,455.7"/>
<!-- Streitaxt -->
<path d="M1351.7,737.7 C1358,762 1380,775 1413.2,767.6"/><path d="M1402.2,760 L1413.2,767.6 L1407.2,776.6"/>
<!-- Gemuese -->
<path d="M1541,1026.8 C1562,1055 1560,1092 1528.5,1114.6"/><path d="M1530.7,1104.3 L1528.3,1114.4 L1540,1116.3"/>
<!-- Tonkrug -->
<path d="M1181.5,1115.4 C1196,1140 1235,1146 1263.4,1134.2"/><path d="M1255.5,1131.9 L1263.6,1134 L1260.1,1143.9"/>
<!-- Schwarzbrot -->
<path d="M1182.8,1217.8 C1205,1238 1250,1238 1281,1220"/><path d="M1272,1221.2 L1280.6,1220.2 L1280.4,1230.4"/>
<!-- Ring -->
<path d="M675.7,597.5 C684,640 675,672 635.9,675.3"/><path d="M644.6,669 L635.9,675.3 L644.6,683.5"/>
<!-- Goldkette -->
<path d="M616.5,816.6 C608,838 585,848 567.2,833"/><path d="M577.8,831.8 L567.2,833 L569.6,843.1"/>
</g></svg>

</body></html>
